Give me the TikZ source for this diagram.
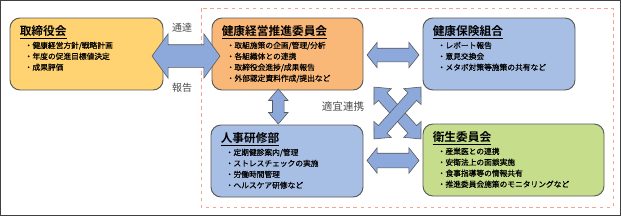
\documentclass[tikz,border=0pt]{standalone}
\usepackage{fontspec}
\newfontfamily\jpfont{Noto Sans CJK JP}[BoldFont={Noto Sans CJK JP Bold}]
\newfontfamily\jpitemfont{Noto Sans CJK JP}[FakeBold=0.5]
\usetikzlibrary{positioning,shapes.arrows,calc}
\definecolor{Ctorifill}{HTML}{FFD371}
\definecolor{Csuishinfill}{HTML}{F9B878}
\definecolor{Cbluefill}{HTML}{A8BFE5}
\definecolor{Cgreenfill}{HTML}{C6DD8C}
\definecolor{Carrowfill}{HTML}{8DA9DB}
\definecolor{Cdashred}{HTML}{F4A391}
\definecolor{Cborder}{HTML}{595959}
\newcommand\pxu{0.03cm}
\tikzset{
  orgbox/.style={draw=Cborder,line width=0.8pt,rounded corners=0.3cm,
    minimum height=72*\pxu,inner sep=0pt},
  boxtitle/.style={anchor=north west,inner sep=0pt,
    font=\jpfont\fontsize{10}{12}\selectfont\bfseries},
  boxitems/.style={anchor=north west,inner sep=0pt,align=left,
    font=\jpitemfont\fontsize{6.6}{9.35}\selectfont},
  linkarrow/.style={shape=double arrow,draw=Cborder,fill=Carrowfill,
    line width=0.5pt,inner xsep=0pt,minimum width=0pt},
  flowlabel/.style={font=\jpfont\fontsize{8.5}{10}\selectfont,
    text=black!70,inner sep=0pt}
}
\begin{document}
\begin{tikzpicture}[x=0.03cm,y=-0.03cm]
  \useasboundingbox (0,0) rectangle (621,216);
  \draw[line width=1.2pt,black!75] (0.6,0.6) rectangle (620.4,215.4);
  \draw[Cdashred,line width=0.8pt,dashed] (201,8) rectangle (613,207);

  % boxes
  \node[orgbox,fill=Ctorifill,minimum width=153*\pxu] (tori) at (86.5,54) {};
  \node[orgbox,fill=Csuishinfill,minimum width=151*\pxu] (suishin) at (287.5,54) {};
  \node[orgbox,fill=Cbluefill,minimum width=152*\pxu] (kenpo) at (499,54) {};
  \node[orgbox,fill=Cbluefill,minimum width=152*\pxu] (jinji) at (287,161) {};
  \node[orgbox,fill=Cgreenfill,minimum width=181*\pxu] (eisei) at (513.5,160) {};

  % box texts
  \node[boxtitle] (tori-h) at ([shift={(10,8)}]tori.north west) {\underline{取締役会}};
  \node[boxitems] (tori-b) at ([shift={(15,24)}]tori.north west)
    {・健康経営方針/戦略計画\\・年度の促進目標値決定\\・成果評価};
  \node[boxtitle] (suishin-h) at ([shift={(10,8)}]suishin.north west) {\underline{健康経営推進委員会}};
  \node[boxitems] (suishin-b) at ([shift={(15,24)}]suishin.north west)
    {・取組施策の企画/管理/分析\\・各組織体との連携\\・取締役会進捗/成果報告\\・外部認定資料作成/提出など};
  \node[boxtitle] (kenpo-h) at ([shift={(10,8)}]kenpo.north west) {\underline{健康保険組合}};
  \node[boxitems] (kenpo-b) at ([shift={(15,24)}]kenpo.north west)
    {・レポート報告\\・意見交換会\\・メタボ対策等施策の共有など};
  \node[boxtitle] (jinji-h) at ([shift={(10,8)}]jinji.north west) {\underline{人事研修部}};
  \node[boxitems] (jinji-b) at ([shift={(15,24)}]jinji.north west)
    {・定期健診案内/管理\\・ストレスチェックの実施\\・労働時間管理\\・ヘルスケア研修など};
  \node[boxtitle] (eisei-h) at ([shift={(10,8)}]eisei.north west) {\underline{衛生委員会}};
  \node[boxitems] (eisei-b) at ([shift={(15,24)}]eisei.north west)
    {・産業医との連携\\・安衛法上の面談実施\\・食事指導等の情報共有\\・推進委員会施策のモニタリングなど};

  % block arrows
  \node[linkarrow,minimum height=68*\pxu,inner ysep=11*\pxu,
    double arrow head extend=11*\pxu,double arrow tip angle=108]
    (tori-suishin) at ($(tori.east)!0.5!(suishin.west)+(-1.5,2)$) {};
  \node[linkarrow,minimum height=52*\pxu,inner ysep=6.5*\pxu,
    double arrow head extend=6*\pxu,double arrow tip angle=103]
    (suishin-kenpo) at ($(suishin.east)!0.5!(kenpo.west)+(0,1)$) {};
  \node[linkarrow,minimum height=52*\pxu,inner ysep=7*\pxu,
    double arrow head extend=5.5*\pxu,double arrow tip angle=103]
    (jinji-eisei) at ($(jinji.east)!0.5!(eisei.west)$) {};
  \node[linkarrow,rotate=90,minimum height=35*\pxu,inner ysep=5.5*\pxu,
    double arrow head extend=4*\pxu,double arrow tip angle=81]
    (suishin-jinji) at ($(suishin.south)!0.5!(jinji.north)+(-9,-1)$) {};
  \coordinate (cross) at (397.5,113);
  \node[linkarrow,rotate=-47.9,minimum height=70*\pxu,inner ysep=5.5*\pxu,
    double arrow head extend=6*\pxu,double arrow tip angle=85]
    (suishin-eisei) at (cross) {};
  \node[linkarrow,rotate=47.9,minimum height=70*\pxu,inner ysep=5.5*\pxu,
    double arrow head extend=6*\pxu,double arrow tip angle=85]
    (jinji-kenpo) at (cross) {};

  % labels
  \node[flowlabel] (tsutatsu) at (182,28) {通達};
  \node[flowlabel] (houkoku) at (182,88) {報告};
  \node[flowlabel,font=\jpfont\fontsize{9}{10}\selectfont] (tekigi) at (343,106) {適宜連携};
\end{tikzpicture}
\end{document}
